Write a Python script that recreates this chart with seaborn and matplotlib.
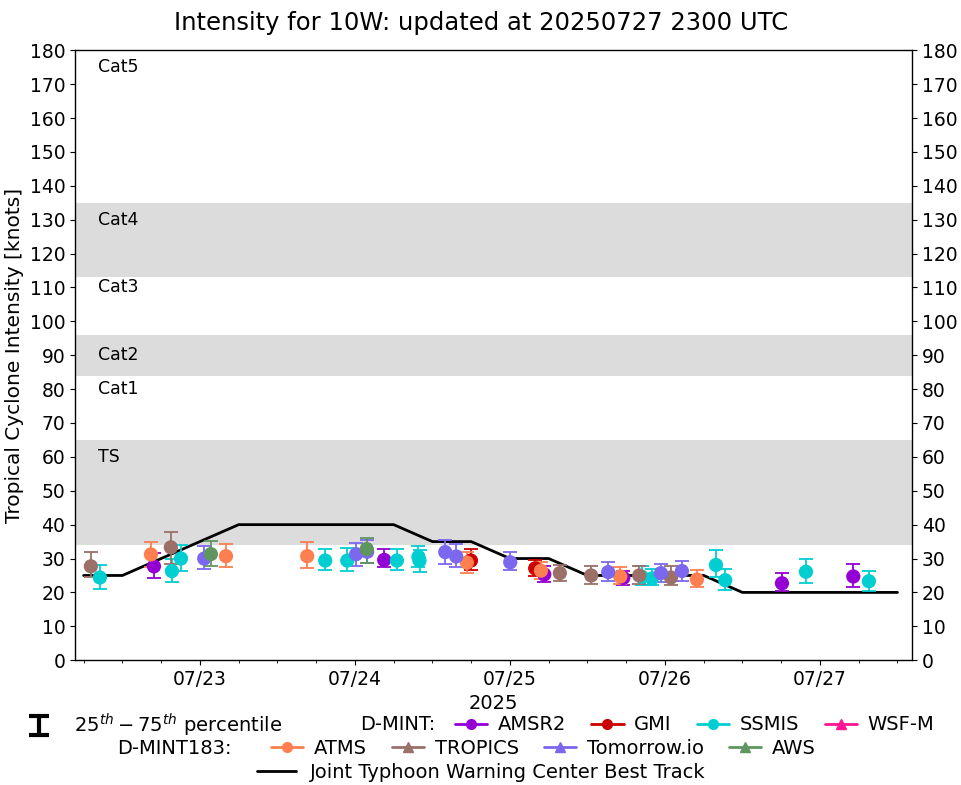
import numpy as np
import pandas as pd
import matplotlib
matplotlib.use("Agg")
import matplotlib.pyplot as plt
import matplotlib.dates as mdates
from matplotlib.lines import Line2D
import seaborn as sns

# JTWC best track (6-hourly)
bt_times = pd.date_range("2025-07-22 06:00", "2025-07-27 12:00", freq="6h")
bt_vmax = [25, 25, 30, 35, 40, 40, 40, 40, 40, 35, 35,
           30, 30, 25, 25, 25, 25, 20, 20, 20, 20, 20]

# D-MINT estimates: time, median, 25th, 75th percentile
amsr2_t = ["2025-07-22 16:53", "2025-07-24 04:32", "2025-07-25 05:19",
           "2025-07-25 17:33", "2025-07-26 18:07", "2025-07-27 05:10"]
amsr2_v = [27.7, 29.6, 25.3, 24.3, 22.7, 24.7]
amsr2_lo = [24.4, 27.4, 23.1, 22.3, 20.5, 21.7]
amsr2_hi = [31.5, 32.7, 27.7, 26.4, 25.7, 28.3]

gmi_t = ["2025-07-24 17:58", "2025-07-25 03:55"]
gmi_v = [29.4, 27.1]
gmi_lo = [26.5, 24.8]
gmi_hi = [32.8, 29.5]

ssmis_t = ["2025-07-22 08:31", "2025-07-22 19:40", "2025-07-22 21:04",
           "2025-07-23 19:24", "2025-07-23 22:49", "2025-07-24 06:30",
           "2025-07-24 09:50", "2025-07-24 10:00", "2025-07-25 20:26",
           "2025-07-25 21:59", "2025-07-26 07:54", "2025-07-26 09:20",
           "2025-07-26 21:50", "2025-07-27 07:35"]
ssmis_v = [24.4, 26.3, 30.0, 29.4, 29.4, 29.4, 30.5, 29.4, 24.6, 24.1,
           28.1, 23.6, 26.1, 23.3]
ssmis_lo = [21.1, 23.0, 26.3, 26.5, 26.3, 26.6, 27.5, 26.1, 22.1, 22.1,
            24.6, 20.7, 22.8, 20.4]
ssmis_hi = [28.2, 29.8, 34.0, 32.8, 33.1, 32.7, 33.8, 32.6, 27.9, 26.8,
            32.4, 27.0, 30.0, 26.3]

wsfm_t, wsfm_v, wsfm_lo, wsfm_hi = [], [], [], []

# D-MINT183 estimates
atms_t = ["2025-07-22 16:25", "2025-07-23 04:02", "2025-07-23 16:37",
          "2025-07-24 17:20", "2025-07-25 04:48", "2025-07-25 17:05",
          "2025-07-26 04:57"]
atms_v = [31.2, 30.7, 30.7, 28.8, 26.4, 24.7, 23.8]
atms_lo = [27.5, 27.4, 27.1, 25.6, 24.0, 22.5, 21.7]
atms_hi = [35.0, 34.4, 35.0, 32.0, 29.0, 27.5, 26.5]

tropics_t = ["2025-07-22 07:07", "2025-07-22 19:30", "2025-07-25 07:44",
             "2025-07-25 12:35", "2025-07-25 20:01", "2025-07-26 00:56"]
tropics_v = [27.7, 33.3, 25.7, 25.0, 25.0, 24.4]
tropics_lo = [24.6, 28.5, 23.3, 22.4, 22.6, 22.1]
tropics_hi = [31.8, 37.7, 28.0, 27.9, 27.9, 27.7]

tmrw_t = ["2025-07-23 00:40", "2025-07-24 00:12", "2025-07-24 01:54",
          "2025-07-24 13:59", "2025-07-24 15:41", "2025-07-25 00:03",
          "2025-07-25 15:13", "2025-07-25 23:23", "2025-07-26 02:38"]
tmrw_v = [30.0, 31.3, 32.0, 31.9, 30.6, 28.9, 26.0, 25.7, 26.3]
tmrw_lo = [26.9, 27.9, 28.8, 28.5, 27.5, 26.5, 23.4, 23.0, 23.5]
tmrw_hi = [33.8, 34.7, 35.4, 35.6, 34.2, 31.9, 28.9, 28.5, 29.4]

aws_t = ["2025-07-23 01:42", "2025-07-24 01:50"]
aws_v = [31.3, 32.8]
aws_lo = [27.9, 28.8]
aws_hi = [35.3, 36.2]

# category bands and labels
bands = [(34, 65), (84, 96), (113, 135)]
cat_names = ["TS", "Cat1", "Cat2", "Cat3", "Cat4", "Cat5"]
cat_label_y = [60, 80, 90, 110, 130, 175]

sensors = [
    ("AMSR2", amsr2_t, amsr2_v, amsr2_lo, amsr2_hi, "#9400d3", "o"),
    ("GMI", gmi_t, gmi_v, gmi_lo, gmi_hi, "#cc0000", "o"),
    ("SSMIS", ssmis_t, ssmis_v, ssmis_lo, ssmis_hi, "#00ced1", "o"),
    ("WSF-M", wsfm_t, wsfm_v, wsfm_lo, wsfm_hi, "#ff1493", "^"),
    ("ATMS", atms_t, atms_v, atms_lo, atms_hi, "#ff7f50", "o"),
    ("TROPICS", tropics_t, tropics_v, tropics_lo, tropics_hi, "#9a7068", "^"),
    ("Tomorrow.io", tmrw_t, tmrw_v, tmrw_lo, tmrw_hi, "#7b68ee", "^"),
    ("AWS", aws_t, aws_v, aws_lo, aws_hi, "#5f965f", "^"),
]

sns.set_style("ticks")
plt.rcParams["font.family"] = ["DejaVu Sans"]
plt.rcParams.update({
    "font.size": 14, "text.color": "black", "axes.labelcolor": "black",
    "xtick.color": "black", "ytick.color": "black",
    "axes.edgecolor": "black",
    "xtick.major.size": 3.5, "ytick.major.size": 3.5,
    "xtick.minor.size": 2, "xtick.major.width": 0.8,
    "ytick.major.width": 0.8,
})

fig = plt.figure(figsize=(9.62, 7.85), dpi=100)
ax = fig.add_axes([0.078, 0.159, 0.870, 0.777])

for lo, hi in bands:
    ax.axhspan(lo, hi, color="#dcdcdc", lw=0, zorder=0)

x0 = pd.Timestamp("2025-07-22 04:40")
x1 = pd.Timestamp("2025-07-27 14:15")
for name, yv in zip(cat_names, cat_label_y):
    ax.text(pd.Timestamp("2025-07-22 08:15"), yv, name, fontsize=12.5,
            va="center", ha="left")

bt = pd.DataFrame({"time": bt_times, "vmax": bt_vmax})
sns.lineplot(data=bt, x="time", y="vmax", color="black", lw=2, ax=ax,
             zorder=2)

handles = {}
for name, t, v, lo, hi, col, mk in sensors:
    handles[name] = Line2D([], [], color=col, marker=mk, lw=2, ms=7)
    if len(t) == 0:
        continue
    tt = pd.to_datetime(t)
    v = np.array(v)
    yerr = [v - np.array(lo), np.array(hi) - v]
    ax.errorbar(tt, v, yerr=yerr, fmt="none", ecolor=col, elinewidth=1.3,
                capsize=5, capthick=1.3, zorder=3)
    df = pd.DataFrame({"time": tt, "v": v})
    sns.scatterplot(data=df, x="time", y="v", color=col, s=105,
                    edgecolor="none", ax=ax, zorder=4)

ax.set_xlim(x0, x1)
ax.set_ylim(0, 180)
ax.set_yticks(range(0, 181, 10))
ax.xaxis.set_major_locator(mdates.DayLocator())
ax.xaxis.set_major_formatter(mdates.DateFormatter("%m/%d"))
ax.xaxis.set_minor_locator(mdates.HourLocator(byhour=[6, 12, 18]))
ax.tick_params(axis="both", labelsize=13.5)
ax.tick_params(axis="y", right=True, labelright=True)
ax.set_xlabel("2025", fontsize=14, labelpad=4)
ax.set_ylabel("Tropical Cyclone Intensity [knots]", fontsize=14.5)
fig.suptitle("Intensity for 10W: updated at 20250727 2300 UTC", fontsize=17.5,
             x=0.5, y=1 - 23 / 785, va="center")
for s in ax.spines.values():
    s.set_visible(True)
    s.set_linewidth(1)

# legends
pct = ax.errorbar([np.nan], [np.nan], yerr=[[1], [1]], fmt="none",
                  ecolor="black", elinewidth=3, capsize=7, capthick=3)
kw = dict(frameon=False, fontsize=14, borderpad=0, borderaxespad=0,
          handletextpad=0.55, columnspacing=1.3, handlelength=1.65)
fig.legend([pct], [r"$25^{th}-75^{th}$ percentile"], loc="center left",
           bbox_to_anchor=(27 / 962, 1 - 725 / 785),
           **dict(kw, handlelength=1.2, handletextpad=1.2))
fig.text(360 / 962, 1 - 725 / 785, "D-MINT:", fontsize=14, va="center")
names1 = ["AMSR2", "GMI", "SSMIS", "WSF-M"]
fig.legend([handles[n] for n in names1], names1, ncol=4, loc="center left",
           bbox_to_anchor=(455 / 962, 1 - 725 / 785), **kw)
fig.text(117 / 962, 1 - 748 / 785, "D-MINT183:", fontsize=14, va="center")
names2 = ["ATMS", "TROPICS", "Tomorrow.io", "AWS"]
fig.legend([handles[n] for n in names2], names2, ncol=4, loc="center left",
           bbox_to_anchor=(271 / 962, 1 - 748 / 785), **kw)
fig.legend([Line2D([], [], color="black", lw=2)],
           ["Joint Typhoon Warning Center Best Track"], loc="center left",
           bbox_to_anchor=(257 / 962, 1 - 772 / 785),
           **dict(kw, handlelength=2.0, handletextpad=0.7))

fig.savefig("out.png", dpi=100)
